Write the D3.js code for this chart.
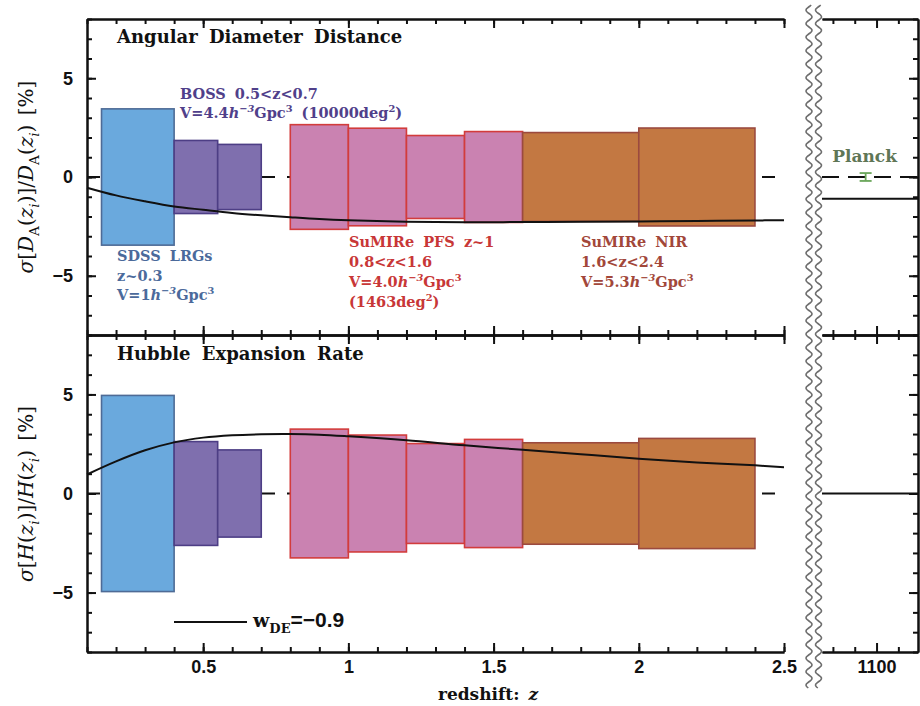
<!DOCTYPE html>
<html><head><meta charset="utf-8">
<script src="https://cdn.jsdelivr.net/npm/d3@7"></script>
<style>body{margin:0;background:#fff}text{white-space:pre}</style>
</head><body><svg id="c" width="920" height="706"></svg>
<script>
// ---------------- data ----------------
const binLo   = [0.15, 0.40, 0.55, 0.80, 1.00, 1.20, 1.40, 1.60, 2.00];
const binHi   = [0.40, 0.55, 0.70, 1.00, 1.20, 1.40, 1.60, 2.00, 2.40];
const survey  = ["SDSS","BOSS","BOSS","PFS","PFS","PFS","PFS","NIR","NIR"];
const errDA   = [3.45, 1.85, 1.65, 2.65, 2.47, 2.10, 2.30, 2.25, 2.48];
const errH    = [4.95, 2.62, 2.20, 3.25, 2.95, 2.52, 2.73, 2.56, 2.78];
const curveZ  = [0.1,0.2,0.3,0.4,0.5,0.6,0.7,0.8,0.9,1.0,1.2,1.4,1.6,1.8,2.0,2.2,2.4,2.5];
const wDA     = [-0.54,-0.93,-1.23,-1.49,-1.66,-1.82,-1.94,-2.04,-2.13,-2.19,-2.26,-2.29,-2.28,-2.27,-2.25,-2.23,-2.20,-2.19];
const wH      = [0.96,1.62,2.18,2.58,2.82,2.94,2.99,3.00,2.97,2.89,2.69,2.43,2.21,1.98,1.76,1.57,1.42,1.33];
const cmbZ    = [1075, 1119];
const cmbDA   = [-1.1, -1.1];
const cmbH    = [0, 0];
const planckZ = 1095, planckErr = 0.2;
const xMajor  = [0.5, 1, 1.5, 2, 2.5];
const xMinor  = d3.range(0.1, 2.51, 0.1).map(v => +v.toFixed(1));
const rMajor  = [1100];
const rMinor  = [1080, 1090, 1110];
const yMajor  = [-5, 0, 5];
const yMinor  = d3.range(-8, 9, 1);

const fillC   = {SDSS:"#6aa9dd", BOSS:"#7f6fae", PFS:"#ca82b1", NIR:"#c37842"};
const strokeC = {SDSS:"#4e6b96", BOSS:"#4d3e85", PFS:"#d23c3c", NIR:"#9b4a3f"};

// ---------------- layout ----------------
const svg = d3.select("#c");
const X0 = 87, X1 = 784, RX0 = 822, RX1 = 918;
const x  = d3.scaleLinear().domain([0.1, 2.5]).range([X0, X1]);
const rx = d3.scaleLinear().domain(cmbZ).range([RX0, RX1]);
const yTop = d3.scaleLinear().domain([-8, 8]).range([335, 19]);
const yBot = d3.scaleLinear().domain([-8, 8]).range([652, 335]);

const SERIF = "'DejaVu Serif', serif";
const SANS  = "'Liberation Sans', Arial, sans-serif";

function rich(parent, px, py, parts, size, color, opts = {}) {
  const t = parent.append("text").attr("x", px).attr("y", py)
    .attr("fill", color).style("font-family", opts.family || SERIF)
    .style("font-size", size + "px").style("font-weight", opts.weight || "bold")
    .style("word-spacing", (opts.ws != null ? opts.ws : 4) + "px");
  if (opts.anchor) t.attr("text-anchor", opts.anchor);
  let shift = 0;
  parts.forEach(p => {
    const [txt, s, fam, fsz] = Array.isArray(p) ? p : [p, "n"];
    let target = 0, fs = size;
    if (s.includes("sup")) { target = -0.42 * size; fs = 0.68 * size; }
    if (s.includes("sub")) { target = 0.32 * size; fs = 0.68 * size; }
    if (fsz) fs = fsz;
    const ts = t.append("tspan").text(txt).attr("dy", target - shift).style("font-size", fs + "px");
    if (s.startsWith("i")) ts.style("font-style", "italic");
    if (fam) ts.style("font-family", fam);
    shift = target;
  });
  return t;
}

function styleAxis(g) {
  g.selectAll("path,line").attr("stroke", "#111").attr("stroke-width", 2);
  g.selectAll("text").style("font-family", SANS).style("font-size", "18px").style("font-weight", "bold").attr("fill", "#111");
}

function panel(y, errs, curve, cmbVals, dashedRight) {
  const g = svg.append("g");
  // zero dashed line
  g.append("line").attr("x1", X0).attr("x2", X1).attr("y1", y(0)).attr("y2", y(0))
    .attr("stroke", "#111").attr("stroke-width", 2).attr("stroke-dasharray", "13,12");
  // bars
  g.selectAll("rect.bar").data(errs).join("rect").attr("class", "bar")
    .attr("x", (d, i) => x(binLo[i])).attr("width", (d, i) => x(binHi[i]) - x(binLo[i]))
    .attr("y", d => y(d)).attr("height", d => y(-d) - y(d))
    .attr("fill", (d, i) => fillC[survey[i]]).attr("stroke", (d, i) => strokeC[survey[i]])
    .attr("stroke-width", 1.6);
  // w=-0.9 curve
  const line = d3.line().x((d, i) => x(curveZ[i])).y(d => y(d)).curve(d3.curveCatmullRom.alpha(0.5));
  g.append("path").attr("d", line(curve)).attr("fill", "none").attr("stroke", "#111").attr("stroke-width", 2);

  // right panel lines
  if (dashedRight) {
    g.append("line").attr("x1", RX0).attr("x2", RX1).attr("y1", y(0)).attr("y2", y(0))
      .attr("stroke", "#111").attr("stroke-width", 2).attr("stroke-dasharray", "17,9");
  }
  const cl = d3.line().x((d, i) => rx(cmbZ[i])).y(d => y(d));
  g.append("path").attr("d", cl(cmbVals)).attr("fill", "none").attr("stroke", "#111").attr("stroke-width", 2);

  const [yb, yt] = y.range();
  // main axes: left, top, bottom
  const left = a => a.tickSizeOuter(0).tickFormat("");
  g.append("g").attr("transform", `translate(${X0},0)`).call(left(d3.axisRight(y).tickValues(yMinor).tickSize(5))).call(styleAxis);
  g.append("g").attr("transform", `translate(${X0},0)`).call(left(d3.axisRight(y).tickValues(yMajor).tickSize(9))).call(styleAxis);
  const yl = g.append("g").attr("transform", `translate(${X0},0)`)
    .call(d3.axisLeft(y).tickValues(yMajor).tickSize(0).tickPadding(14).tickFormat(d3.format("d"))).call(styleAxis);
  yl.select(".domain").remove();
  [[yt, d3.axisBottom], [yb, d3.axisTop]].forEach(([yy, ax]) => {
    g.append("g").attr("transform", `translate(0,${yy})`).call(ax(x).tickValues(xMinor).tickSize(5).tickSizeOuter(0).tickFormat("")).call(styleAxis);
    g.append("g").attr("transform", `translate(0,${yy})`).call(ax(x).tickValues(xMajor).tickSize(9).tickSizeOuter(0).tickFormat("")).call(styleAxis);
    g.append("g").attr("transform", `translate(0,${yy})`).call(ax(rx).tickValues(rMinor).tickSize(5).tickSizeOuter(0).tickFormat("")).call(styleAxis);
    g.append("g").attr("transform", `translate(0,${yy})`).call(ax(rx).tickValues(rMajor).tickSize(9).tickSizeOuter(0).tickFormat("")).call(styleAxis);
  });
  g.append("g").attr("transform", `translate(${RX1},0)`).call(d3.axisLeft(y).tickValues(yMinor).tickSize(5).tickSizeOuter(0).tickFormat("")).call(styleAxis);
  g.append("g").attr("transform", `translate(${RX1},0)`).call(d3.axisLeft(y).tickValues(yMajor).tickSize(9).tickSizeOuter(0).tickFormat("")).call(styleAxis);
  return g;
}

const gTop = panel(yTop, errDA, wDA, cmbDA, true);
const gBot = panel(yBot, errH, wH, cmbH, false);

// x tick labels
const xl = svg.append("g").attr("transform", `translate(0,${yBot.range()[0]})`)
  .call(d3.axisBottom(x).tickValues(xMajor).tickSize(0).tickPadding(8).tickFormat(d3.format(""))).call(styleAxis);
xl.select(".domain").remove();
const rl = svg.append("g").attr("transform", `translate(0,${yBot.range()[0]})`)
  .call(d3.axisBottom(rx).tickValues(rMajor).tickSize(0).tickPadding(8).tickFormat(d3.format("d"))).call(styleAxis);
rl.select(".domain").remove();

// Planck error bar
const pg = svg.append("g").attr("stroke", "#6aa65a").attr("stroke-width", 1.8);
pg.append("line").attr("x1", rx(planckZ)).attr("x2", rx(planckZ)).attr("y1", yTop(planckErr)).attr("y2", yTop(-planckErr));
[planckErr, -planckErr].forEach(v => pg.append("line").attr("x1", rx(planckZ) - 6).attr("x2", rx(planckZ) + 6).attr("y1", yTop(v)).attr("y2", yTop(v)));
rich(svg, rx(planckZ) - 1, 162, ["Planck"], 17, "#5f7656", {anchor: "middle"});

// wavy break lines
[809, 818.5].forEach(cx => {
  const pts = d3.range(5, 689, 1).map(yy => [cx + 3 * Math.sin(2 * Math.PI * yy / 13.5), yy]);
  svg.append("path").attr("d", d3.line()(pts)).attr("fill", "none").attr("stroke", "#6e6e6e").attr("stroke-width", 1.6);
});

// panel titles
rich(svg, 117, 43, ["Angular Diameter Distance"], 18, "#111", {ws: 5});
rich(svg, 117, 360, ["Hubble Expansion Rate"], 18, "#111", {ws: 5});

// survey annotations
const AS = 14.5;
const sd = "#4b6a9b", bo = "#50408a", pf = "#c83737", ni = "#a2473a";
rich(svg, 117, 261, ["SDSS LRGs"], AS, sd);
rich(svg, 117, 281, ["z~0.3"], AS, sd);
rich(svg, 117, 300, ["V=1", ["h","i"], ["−3","isup"], ["Gpc","n"], ["3","sup"]], AS, sd);
rich(svg, 180, 99, ["BOSS 0.5<z<0.7"], AS, bo);
rich(svg, 180, 118, ["V=4.4", ["h","i"], ["−3","isup"], ["Gpc","n"], ["3","sup"], [" (10000deg","n"], ["2","sup"], [")","n"]], AS, bo);
rich(svg, 349, 247, ["SuMIRe PFS z~1"], AS, pf);
rich(svg, 349, 267, ["0.8<z<1.6"], AS, pf);
rich(svg, 349, 287, ["V=4.0", ["h","i"], ["−3","isup"], ["Gpc","n"], ["3","sup"]], AS, pf);
rich(svg, 349, 307, ["(1463deg", ["2","sup"], [")","n"]], AS, pf);
rich(svg, 581, 247, ["SuMIRe NIR"], AS, ni);
rich(svg, 581, 267, ["1.6<z<2.4"], AS, ni);
rich(svg, 581, 287, ["V=5.3", ["h","i"], ["−3","isup"], ["Gpc","n"], ["3","sup"]], AS, ni);

// legend
svg.append("line").attr("x1", 174).attr("x2", 247).attr("y1", 622).attr("y2", 622).attr("stroke", "#111").attr("stroke-width", 2);
rich(svg, 253, 627, [["w","n", null, 19], ["DE","sub", null, 13], ["=−0.9","n", SANS, 21]], 19, "#111", {ws: 0});

// y-axis labels
const ylab = (cy, parts) => {
  const g = svg.append("g").attr("transform", `translate(33,${cy}) rotate(-90)`);
  rich(g, 0, 0, parts, 20, "#111", {weight: "normal", anchor: "middle", ws: 3});
};
ylab(177, [["σ","i"], ["[","n"], ["D","i"], ["A","sub"], ["(","n"], ["z","i"], ["i","isub"], [")]/","n"], ["D","i"], ["A","sub"], ["(","n"], ["z","i"], ["i","isub"], [") [%]","n"]]);
ylab(494, [["σ","i"], ["[","n"], ["H","i"], ["(","n"], ["z","i"], ["i","isub"], [")]/","n"], ["H","i"], ["(","n"], ["z","i"], ["i","isub"], [") [%]","n"]]);

// x-axis label
rich(svg, 488, 700, ["redshift: ", ["z","i"]], 17, "#111", {anchor: "middle", ws: 3});
</script></body></html>
